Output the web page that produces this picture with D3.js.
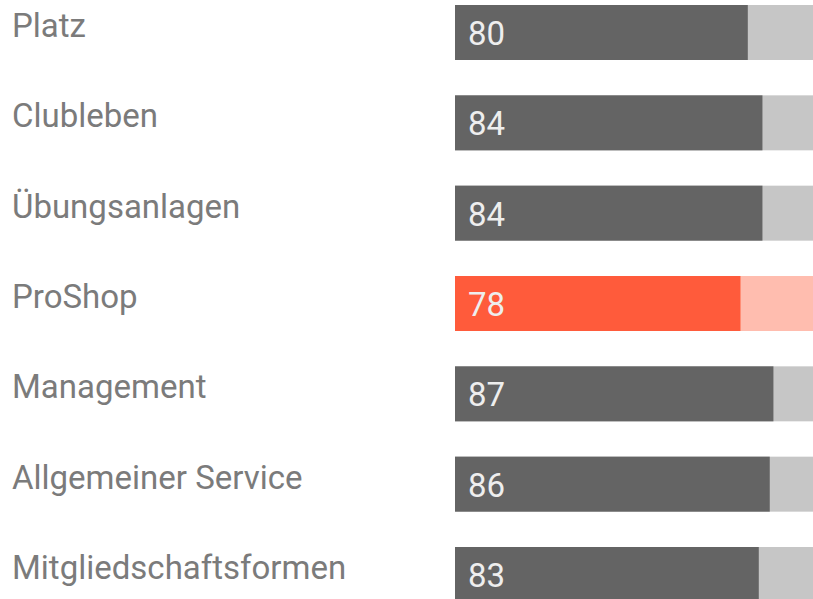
<!DOCTYPE html>
<html>
<head>
<meta charset="utf-8">
<script src="https://cdn.jsdelivr.net/npm/d3@7"></script>
<style>
  body { margin: 0; background: #fff; overflow: hidden; }
  svg { display: block; }
</style>
</head>
<body>
<div id="chart"></div>
<script>
const categories = ["Platz", "Clubleben", "Übungsanlagen", "ProShop", "Management", "Allgemeiner Service", "Mitgliedschaftsformen"];
const scores = [80, 84, 84, 78, 87, 86, 83];
const highlighted = ["ProShop"];

const width = 813, height = 599;

const svg = d3.select("#chart")
    .append("svg")
    .attr("width", width)
    .attr("height", height);

const xScale = d3.scaleLinear()
    .domain([0, 100])
    .range([455, 821]);

// rows: bar height 55, pitch ~90
const yScale = d3.scaleBand()
    .domain(categories)
    .range([5, 602])
    .paddingInner(35.33 / 90.33)
    .paddingOuter(0);

const rows = svg.selectAll("g.row")
    .data(categories.map((c, i) => ({ name: c, value: scores[i] })))
    .join("g")
    .attr("class", "row")
    .attr("transform", d => `translate(0,${yScale(d.name)})`);

// background track
rows.append("rect")
    .attr("x", xScale(0))
    .attr("width", xScale(100) - xScale(0))
    .attr("height", yScale.bandwidth())
    .attr("fill", d => highlighted.includes(d.name) ? "#ffbdaf" : "#c6c6c6");

// value bar
rows.append("rect")
    .attr("x", xScale(0))
    .attr("width", d => xScale(d.value) - xScale(0))
    .attr("height", yScale.bandwidth())
    .attr("fill", d => highlighted.includes(d.name) ? "#ff5b3b" : "#646464");

// category labels
rows.append("text")
    .attr("x", 12)
    .attr("y", 32)
    .attr("fill", "#7b7b7b")
    .style("font-family", "Roboto, sans-serif")
    .style("font-size", "33px")
    .text(d => d.name);

// value labels
rows.append("text")
    .attr("x", xScale(0) + 13)
    .attr("y", 40)
    .attr("fill", "#eeeeee")
    .style("font-family", "Roboto, sans-serif")
    .style("font-size", "33px")
    .text(d => d.value);
</script>
</body>
</html>
